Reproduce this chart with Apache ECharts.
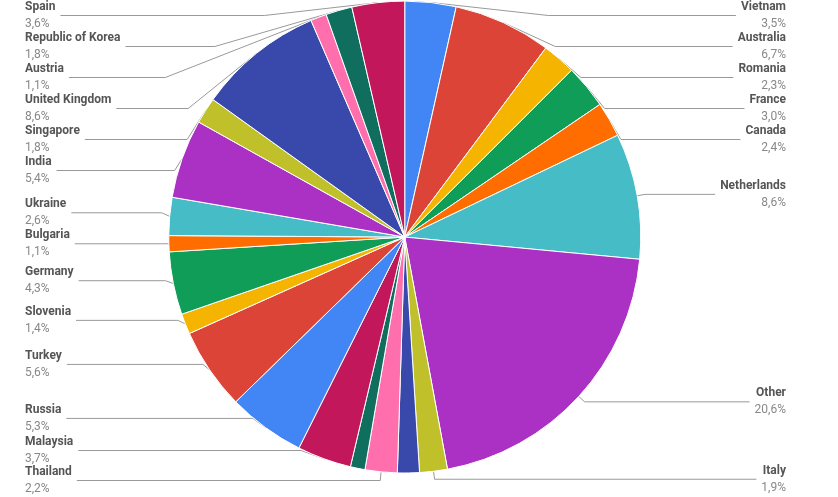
<!DOCTYPE html>
<html><head><meta charset="utf-8">
<script src="https://cdn.jsdelivr.net/npm/echarts@6/dist/echarts.min.js"></script>
<style>html,body{margin:0;padding:0;background:#fff}#c{width:838px;height:497px}</style>
</head><body><div id="c"></div>
<script>
const categories = ["Vietnam","Australia","Romania","France","Canada","Netherlands","Other","Italy","","Thailand","","Malaysia","Russia","Turkey","Slovenia","Germany","Bulgaria","Ukraine","India","Singapore","United Kingdom","Austria","Republic of Korea","Spain"];
const values = [3.5,6.7,2.3,3.0,2.4,8.6,20.6,1.9,1.5,2.2,1.0,3.7,5.3,5.6,1.4,4.3,1.1,2.6,5.4,1.8,8.6,1.1,1.8,3.6];
const colors = ["#4285f4","#db4437","#f4b400","#0f9d58","#ff6d00","#46bdc6","#ab30c4","#c0c02a","#3949ab","#ff6fae","#0f6e5e","#c2185b"];
const chart = echarts.init(document.getElementById('c'));
chart.setOption({
  animation:false,
  color: colors,
  series:[{
    type:'pie', left:25, right:52, top:0, bottom:0,
    center:['49.9%','47.7%'], radius:236, startAngle:90,
    itemStyle:{borderColor:'#fff',borderWidth:1},
    label:{
      alignTo:'edge', edgeDistance:0, fontFamily:'Roboto',
      formatter: p => '{n|'+p.name+'}\n{v|'+p.value.toFixed(1).replace('.',',')+'%}',
      rich:{n:{fontWeight:'bold',fontSize:12,color:'#555',lineHeight:17,fontFamily:'Roboto'},
            v:{fontSize:12,color:'#888',lineHeight:17,fontFamily:'Roboto'}}
    },
    labelLine:{length:8,length2:0,lineStyle:{color:'#999',width:1}},
    data: categories.map((c,i)=>({name:c,value:values[i],
      label:{show:c!==''},labelLine:{show:c!==''}}))
  }]
});
</script></body></html>
